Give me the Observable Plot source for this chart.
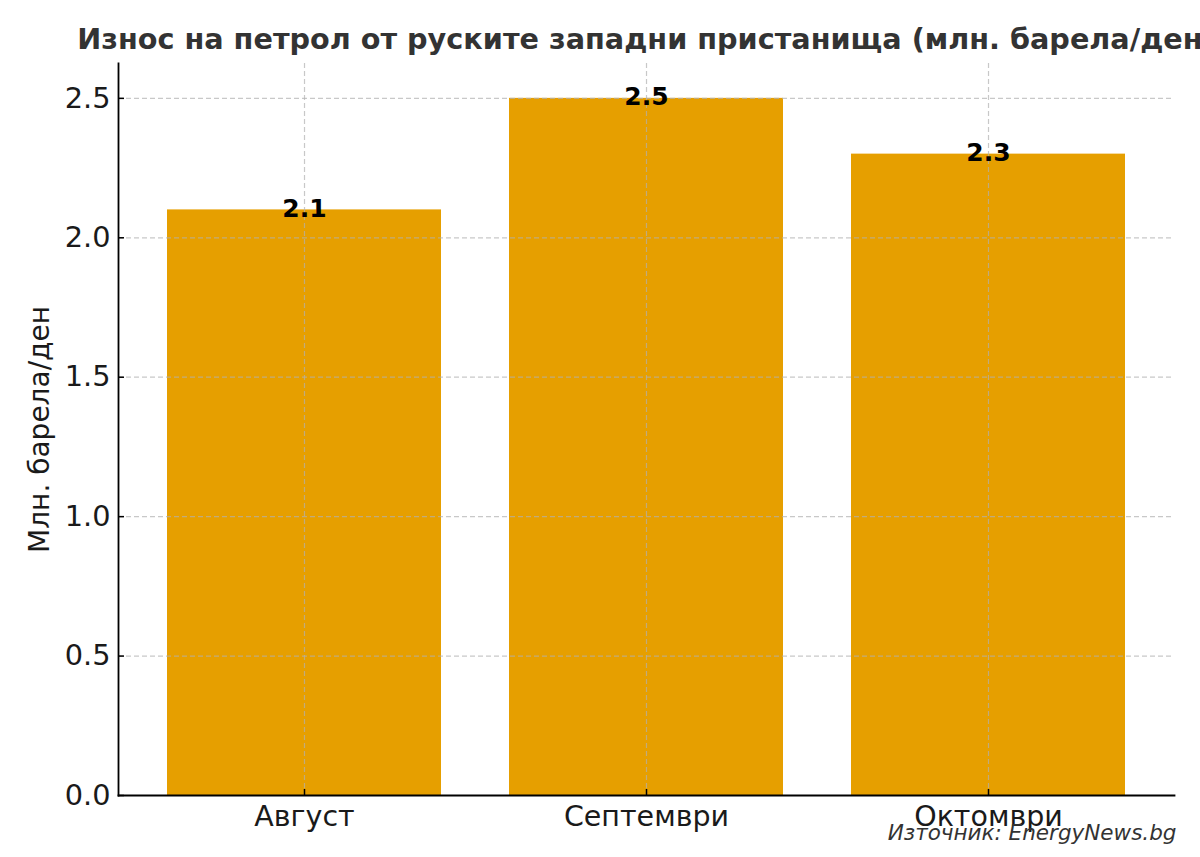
<!DOCTYPE html>
<html>
<head>
<meta charset="utf-8">
<script src="https://cdn.jsdelivr.net/npm/d3@7"></script>
<script src="https://cdn.jsdelivr.net/npm/@observablehq/plot@0.6"></script>
<style>
  html, body { margin: 0; padding: 0; background: white; overflow: hidden; }
  #chart svg { display: block; overflow: hidden; }
</style>
</head>
<body>
<div id="chart"></div>
<script>
const title = "Износ на петрол от руските западни пристанища (млн. барела/ден)";
const yLabel = "Млн. барела/ден";
const source = "Източник: EnergyNews.bg";
const categories = ["Август", "Септември", "Октомври"];
const values = [2.1, 2.5, 2.3];
const yTicks = [0, 0.5, 1.0, 1.5, 2.0, 2.5];

const data = categories.map((c, i) => ({month: c, value: values[i]}));

const W = 1200, H = 857, ML = 118, MR = 26, MT = 63, MB = 62;
const FW = W - ML - MR, FH = H - MT - MB;
const font = "'DejaVu Sans', sans-serif";

const chart = Plot.plot({
  width: W, height: H,
  marginLeft: ML, marginRight: MR, marginTop: MT, marginBottom: MB,
  style: {fontFamily: font, background: "white", color: "#1a1a1a"},
  x: {domain: categories, paddingInner: 0.2, paddingOuter: 0.14, align: 0.5, label: null},
  y: {domain: [0, 2.625], label: null},
  marks: [
    Plot.barY(data, {x: "month", y: "value", fill: "#E69F00"}),
    Plot.gridY(yTicks, {stroke: "#b0b0b0", strokeOpacity: 0.7, strokeDasharray: "5,3", strokeWidth: 1.2}),
    Plot.gridX(categories, {stroke: "#b0b0b0", strokeOpacity: 0.7, strokeDasharray: "5,3", strokeWidth: 1.2}),
    Plot.tickY(yTicks, {y: d => d, stroke: "black", strokeWidth: 1.5, insetRight: FW - 6}),
    Plot.tickX(categories, {x: d => d, stroke: "black", strokeWidth: 1.5, insetTop: FH - 6}),
    Plot.frame({anchor: "left", stroke: "black", strokeWidth: 1.8}),
    Plot.frame({anchor: "bottom", stroke: "black", strokeWidth: 1.8}),
    Plot.axisY(yTicks, {tickSize: 0, tickPadding: 8, tickFormat: d => d.toFixed(1), fontSize: 28.8, label: null}),
    Plot.axisX(categories, {tickSize: 0, tickPadding: 10, fontSize: 28.5, label: null}),
    Plot.text(data, {x: "month", y: "value", text: d => d.value.toFixed(1), fontWeight: "bold", fontSize: 25, fill: "black", lineAnchor: "middle", dy: -1}),
    Plot.text([yLabel], {text: d => d, frameAnchor: "left", rotate: -90, dx: -78, fontSize: 28, fill: "#1a1a1a", textAnchor: "middle"}),
    Plot.text([title], {text: d => d, frameAnchor: "top", dy: -24, fontSize: 28.7, fontWeight: "bold", fill: "#333333", lineAnchor: "middle"}),
    Plot.text([source], {text: d => d, frameAnchor: "bottom-right", dx: 2, dy: 38, fontSize: 21.5, fontStyle: "italic", fill: "#333333", textAnchor: "end", lineAnchor: "middle"})
  ]
});
document.getElementById("chart").appendChild(chart);
</script>
</body>
</html>
